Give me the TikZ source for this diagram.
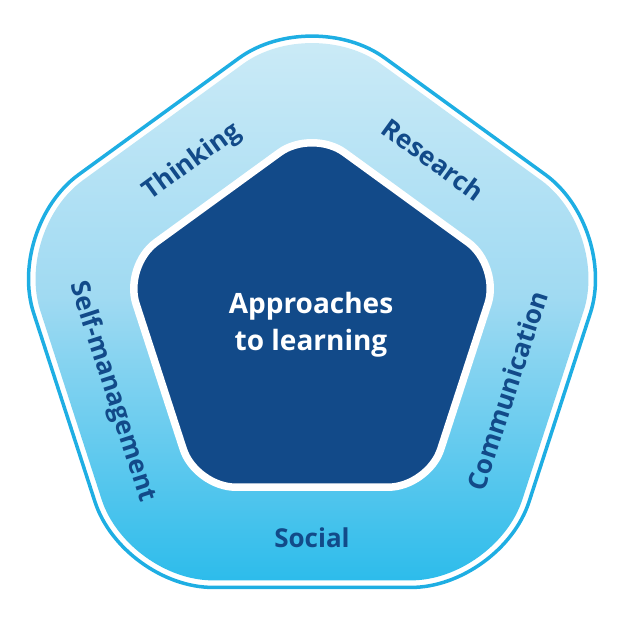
\documentclass[tikz,border=0pt]{standalone}
\usepackage{fontspec}
\setmainfont{Open Sans}
\usetikzlibrary{calc}
\definecolor{atlblue}{RGB}{18,74,137}
\definecolor{atlcyan}{RGB}{30,174,227}
\definecolor{atltop}{RGB}{207,236,247}
\definecolor{atlmid}{RGB}{160,218,242}
\definecolor{atlbottom}{RGB}{45,188,235}
\tikzset{
  my side/.style={
    text=atlblue,
    font=\fontsize{26}{30}\selectfont\bfseries,
    inner sep=0pt,
    anchor=base
  },
  my core/.style={
    text=white,
    align=center,
    font=\fontsize{28}{37}\selectfont\bfseries,
    inner sep=0pt
  },
  my ring/.style={
    top color=atltop,
    bottom color=atlbottom,
    middle color=atlmid
  }
}

\begin{document}
\begin{tikzpicture}[x=1pt,y=1pt]
\useasboundingbox (0,0) rectangle (623,623);
\coordinate (c) at (312,296);
\foreach \i in {0,...,4}{
  \coordinate (o\i) at ($(c)+(90+72*\i:321.9)$);
  \coordinate (f\i) at ($(c)+(90+72*\i:313.2)$);
  \coordinate (p\i) at ($(c)+(90+72*\i:198)$);
}
% outer ring
\draw[atlcyan,line width=3.5pt,rounded corners=90pt] (o0)--(o1)--(o2)--(o3)--(o4)--cycle;
\shade[my ring,rounded corners=85pt] (f0)--(f1)--(f2)--(f3)--(f4)--cycle;
% inner pentagon
\filldraw[fill=atlblue,draw=white,line width=7.5pt,rounded corners=40pt] (p0)--(p1)--(p2)--(p3)--(p4)--cycle;
\node[my core] (core) at (311,298) {Approaches\\to learning};
% the five skills
\node[my side,rotate=36] (thinking) at ($(c)+(126:197)$) {Thinking};
\node[my side,rotate=-36] (research) at ($(c)+(54:197)$) {Research};
\node[my side,rotate=72] (communication) at ($(c)+(342:215)$) {Communication};
\node[my side] (social) at ($(c)+(270:221)$) {Social};
\node[my side,rotate=-72] (selfman) at ($(c)+(198:217)$) {Self-management};
\end{tikzpicture}
\end{document}
